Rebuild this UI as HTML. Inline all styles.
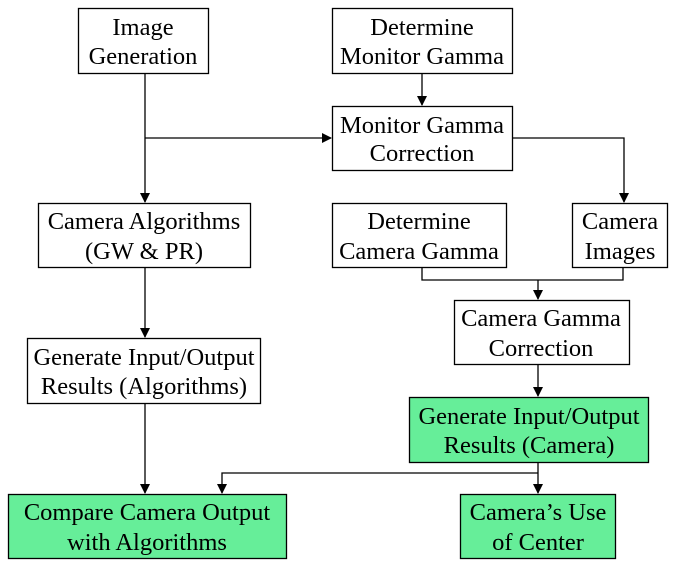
<!DOCTYPE html>
<html><head><meta charset="utf-8"><style>
html,body{margin:0;padding:0;background:#fff;}
svg{display:block;}
text{font-family:"Liberation Serif",serif;font-size:24.5px;fill:#000;text-anchor:middle;}
</style></head><body>
<svg width="677" height="566" viewBox="0 0 677 566" xmlns="http://www.w3.org/2000/svg">
<defs><marker id="a" markerWidth="10" markerHeight="10" refX="9" refY="5" orient="auto" markerUnits="userSpaceOnUse"><path d="M0,0 L10,5 L0,10 z" fill="#000"/></marker></defs>
<g fill="#fff" stroke="#000" stroke-width="1.3">
<rect x="78.5" y="8.5" width="130" height="65"/>
<rect x="332.5" y="8.5" width="180" height="65"/>
<rect x="332.5" y="106.5" width="180" height="64"/>
<rect x="38.5" y="203.5" width="212" height="64"/>
<rect x="332.5" y="203.5" width="174" height="64"/>
<rect x="572.5" y="203.5" width="95" height="64"/>
<rect x="454.5" y="300.5" width="175" height="64"/>
<rect x="27.5" y="338.5" width="233" height="65"/>
<rect x="409.5" y="397.5" width="239" height="65" fill="#66ee99"/>
<rect x="8.5" y="494.5" width="278" height="64" fill="#66ee99"/>
<rect x="460.5" y="494.5" width="155" height="64" fill="#66ee99"/>
</g>
<g fill="none" stroke="#000" stroke-width="1.3">
<path d="M145,73 V202" marker-end="url(#a)"/>
<path d="M145,138 H331" marker-end="url(#a)"/>
<path d="M422,73 V105" marker-end="url(#a)"/>
<path d="M512,138 H624 V202" marker-end="url(#a)"/>
<path d="M145,267 V337" marker-end="url(#a)"/>
<path d="M145,403 V493" marker-end="url(#a)"/>
<path d="M422,267 V280 H623 V267"/>
<path d="M538,280 V299" marker-end="url(#a)"/>
<path d="M538,364 V396" marker-end="url(#a)"/>
<path d="M538,462 V493" marker-end="url(#a)"/>
<path d="M538,473 H222 V493" marker-end="url(#a)"/>
</g>
<text x="143" y="35">Image</text><text x="143" y="64">Generation</text>
<text x="422" y="35">Determine</text><text x="422" y="64">Monitor Gamma</text>
<text x="422" y="133">Monitor Gamma</text><text x="422" y="161">Correction</text>
<text x="144" y="229">Camera Algorithms</text><text x="144" y="259">(GW &amp; PR)</text>
<text x="419" y="229">Determine</text><text x="419" y="259">Camera Gamma</text>
<text x="620" y="229">Camera</text><text x="620" y="259">Images</text>
<text x="541" y="326">Camera Gamma</text><text x="541" y="356">Correction</text>
<text x="144" y="365">Generate Input/Output</text><text x="144" y="394">Results (Algorithms)</text>
<text x="529" y="424">Generate Input/Output</text><text x="529" y="453">Results (Camera)</text>
<text x="147" y="520">Compare Camera Output</text><text x="147" y="550">with Algorithms</text>
<text x="538" y="520">Camera’s Use</text><text x="538" y="550">of Center</text>
</svg>
</body></html>
